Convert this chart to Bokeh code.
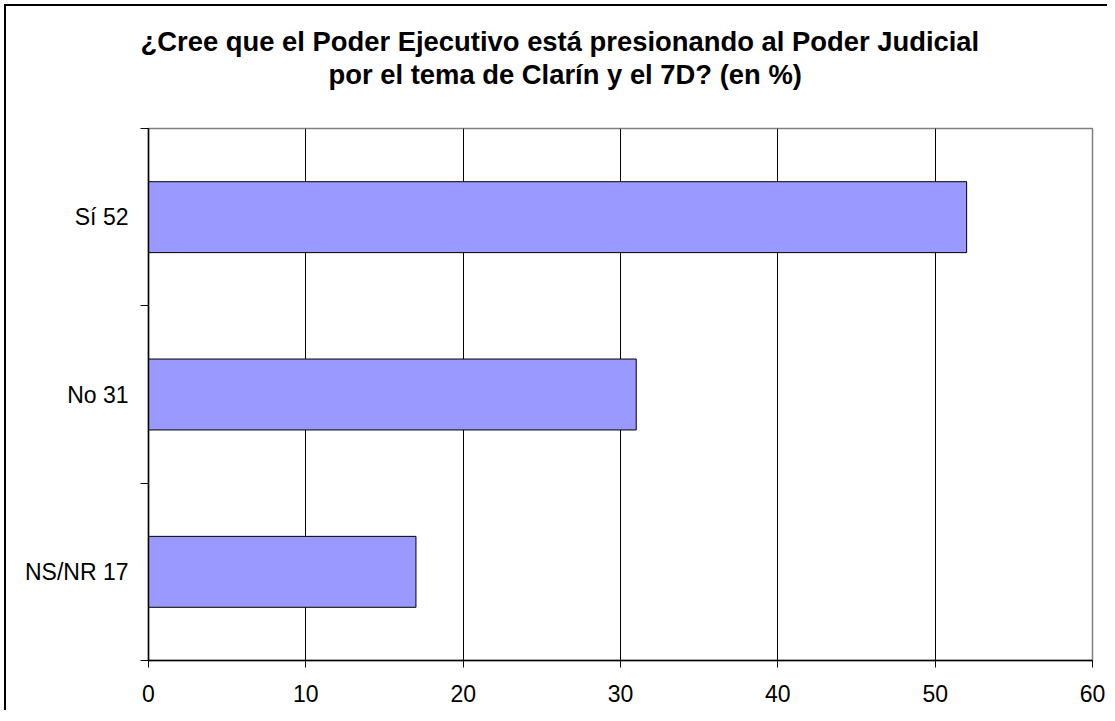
from bokeh.plotting import figure
from bokeh.models import FixedTicker, Range1d, Title, ColumnDataSource
from bokeh.embed import file_html
from bokeh.resources import INLINE

categories = ["NS/NR 17", "No 31", "Sí 52"]
values = [17, 31, 52]
x_ticks = [0, 10, 20, 30, 40, 50, 60]
title_line1 = "¿Cree que el Poder Ejecutivo está presionando al Poder Judicial"
title_line2 = "por el tema de Clarín y el 7D? (en %)"

FONT = "Liberation Sans"
pos = [i + 0.5 for i in range(len(categories))]
src = ColumnDataSource(dict(y=pos, v=values, cat=categories))

p = figure(width=1103, height=706, output_backend="svg", toolbar_location=None,
           x_range=Range1d(0, 60), y_range=Range1d(0, len(categories)),
           min_border_left=142, min_border_right=17, min_border_top=122, min_border_bottom=52)
p.styles = {"margin-left": "4px", "margin-top": "4px",
            "border-left": "2px solid black", "border-top": "2px solid black"}
p.outline_line_color = "#808080"
p.outline_line_width = 1.5
p.background_fill_color = "white"
p.border_fill_color = "white"

p.hbar(y="y", right="v", left=0, height=0.4, source=src,
       fill_color="#9999FF", line_color="black", line_width=1)

# x axis
p.xaxis.ticker = FixedTicker(ticks=x_ticks)
p.xaxis.axis_line_color = "black"
p.xaxis.axis_line_width = 1.5
p.xaxis.major_tick_line_color = "black"
p.xaxis.major_tick_out = 7
p.xaxis.major_tick_in = 0
p.xaxis.minor_tick_line_color = None
p.xaxis.major_label_text_font = FONT
p.xaxis.major_label_text_font_size = "23px"
p.xaxis.major_label_text_color = "black"
p.xaxis.major_label_standoff = 17

# y axis
p.yaxis.ticker = FixedTicker(ticks=pos, minor_ticks=list(range(len(categories) + 1)))
p.yaxis.major_label_overrides = {pp: c for pp, c in zip(pos, categories)}
p.yaxis.axis_line_color = "black"
p.yaxis.axis_line_width = 1.5
p.yaxis.major_tick_line_color = None
p.yaxis.minor_tick_line_color = "black"
p.yaxis.minor_tick_out = 8
p.yaxis.minor_tick_in = 0
p.yaxis.major_label_text_font = FONT
p.yaxis.major_label_text_font_size = "23px"
p.yaxis.major_label_text_color = "black"
p.yaxis.major_label_standoff = 12

p.xgrid.ticker = FixedTicker(ticks=x_ticks[1:-1])
p.xgrid.grid_line_color = "black"
p.xgrid.grid_line_width = 1
p.ygrid.grid_line_color = None

# titles (first added sits closest to the plot area)
p.add_layout(Title(text=" ", text_font_size="1px", standoff=36), "above")
p.add_layout(Title(text=title_line2, align="left", offset=180, standoff=0,
                   text_font=FONT, text_font_style="bold", text_font_size="27.4px",
                   text_color="black"), "above")
p.add_layout(Title(text=title_line1, align="left", offset=-8, standoff=0,
                   text_font=FONT, text_font_style="bold", text_font_size="27.4px",
                   text_color="black"), "above")

open("out.html", "w").write(file_html(p, INLINE))
